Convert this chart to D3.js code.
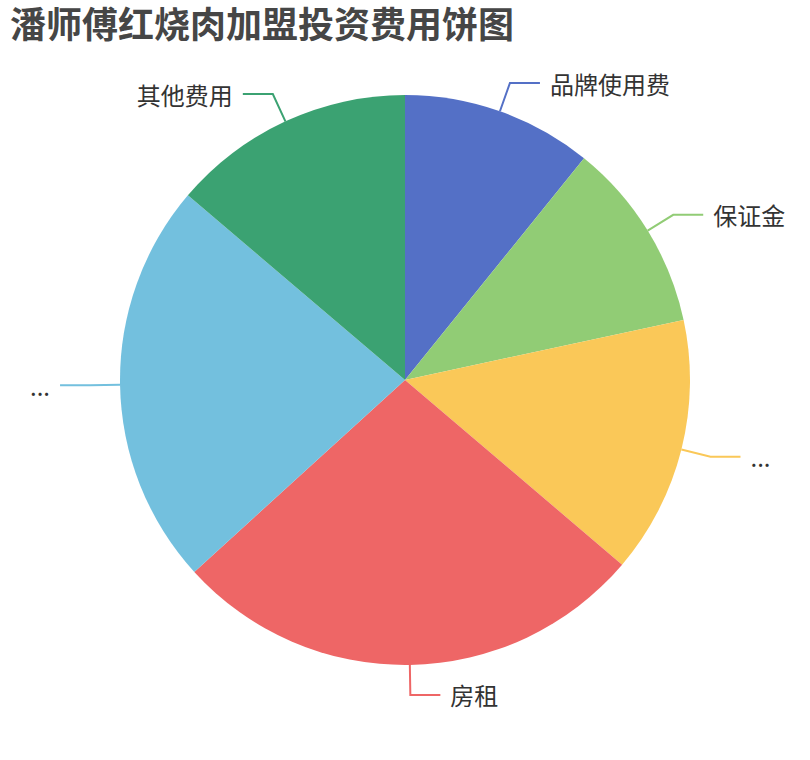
<!DOCTYPE html>
<head>
  <meta charset="utf-8">
  <title>潘师傅红烧肉加盟投资费用饼图</title>
  <style>
    body {margin: 0; background: #fff;}
    svg {display: block; font-family: "Noto Sans CJK SC", "Noto Sans", sans-serif;}
    .title {font-size: 36px; font-weight: bold; fill: #464646;}
    .label {font-size: 24px; fill: #333;}
    .labelLine {fill: none; stroke-width: 2;}
  </style>
</head>
<body>
  <svg width="810" height="760"></svg>
  <script src="https://cdn.jsdelivr.net/npm/d3@7/dist/d3.min.js"></script>
  <script>
    // data (label text as shown, long names are cut to "...")
    var names = ["品牌使用费", "保证金", "...", "房租", "...", "其他费用"];
    var values = [4, 4, 5.4, 10, 8.5, 5.1];
    var colors = ["#5470c6", "#91cc75", "#fac858", "#ee6666", "#73c0de", "#3ba272"];

    var svg = d3.select("svg"),
        cx = 405, cy = 380,
        radius = 285,
        len1 = 30, len2 = 30;

    svg.append("text")
        .attr("class", "title")
        .attr("x", 10)
        .attr("y", 38)
        .text("潘师傅红烧肉加盟投资费用饼图");

    var color = d3.scaleOrdinal().domain(d3.range(names.length)).range(colors);

    var pie = d3.pie().sort(null).value(function(d) { return d; });
    var arcs = pie(values);

    var arc = d3.arc().innerRadius(0).outerRadius(radius);
    var edgeArc = d3.arc().innerRadius(radius).outerRadius(radius);
    var outArc = d3.arc().innerRadius(radius + len1).outerRadius(radius + len1);

    var g = svg.append("g").attr("transform", "translate(" + cx + "," + cy + ")");

    g.selectAll(".slice")
        .data(arcs)
      .enter().append("path")
        .attr("class", "slice")
        .attr("d", arc)
        .attr("fill", function(d, i) { return color(i); });

    //label lines: radial segment then horizontal segment
    g.selectAll(".labelLine")
        .data(arcs)
      .enter().append("polyline")
        .attr("class", "labelLine")
        .attr("stroke", function(d, i) { return color(i); })
        .attr("points", function(d) {
          var a = edgeArc.centroid(d), b = outArc.centroid(d);
          var dir = b[0] >= 0 ? 1 : -1;
          return [a, b, [b[0] + dir * len2, b[1]]].join(" ");
        });

    g.selectAll(".label")
        .data(arcs)
      .enter().append("text")
        .attr("class", "label")
        .attr("x", function(d) {
          var b = outArc.centroid(d);
          return b[0] >= 0 ? b[0] + len2 + 10 : b[0] - len2 - 10;
        })
        .attr("y", function(d) { return outArc.centroid(d)[1]; })
        .attr("dominant-baseline", "central")
        .attr("text-anchor", function(d) { return outArc.centroid(d)[0] >= 0 ? "start" : "end"; })
        .text(function(d, i) { return names[i]; });
  </script>
</body>
